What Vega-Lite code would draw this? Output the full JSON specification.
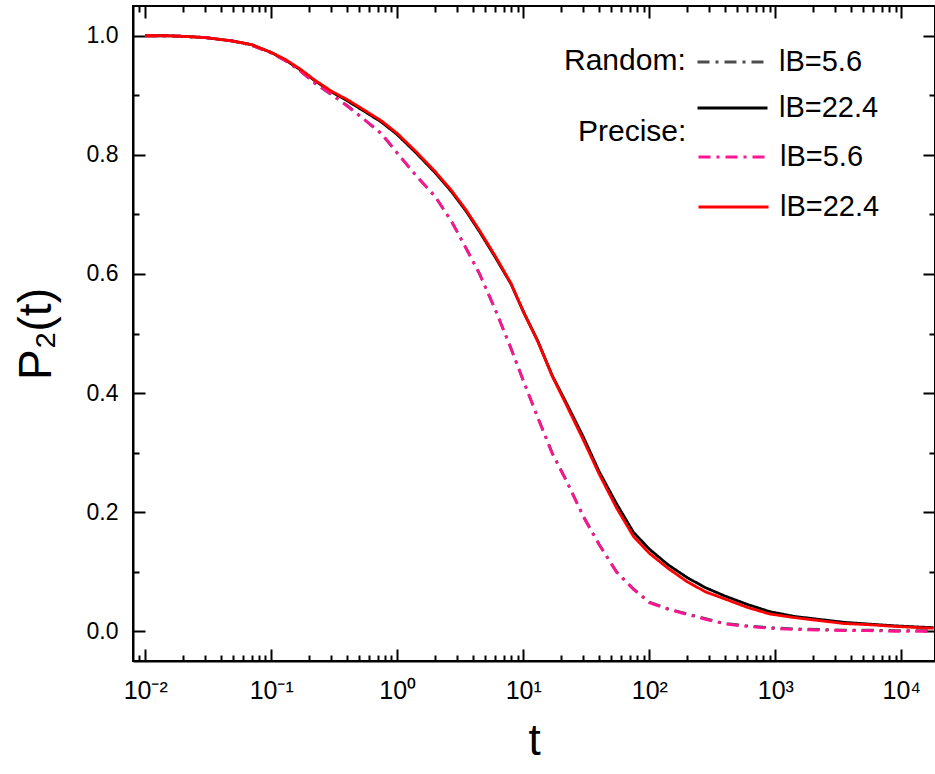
{
  "$schema": "https://vega.github.io/schema/vega-lite/v6.json",
  "width": 802,
  "height": 655,
  "autosize": {"type": "none"},
  "padding": {"left": 133, "top": 6, "right": 0, "bottom": 113},
  "background": "white",
  "config": {"view": {"stroke": "black", "strokeWidth": 2}, "font": "Liberation Sans"},
  "datasets": {
    "curves": [
      {"g":"Random","lb":"lB=5.6","t":0.01,"p":1.0},{"g":"Random","lb":"lB=5.6","t":0.015,"p":1.0},{"g":"Random","lb":"lB=5.6","t":0.02,"p":0.999},{"g":"Random","lb":"lB=5.6","t":0.03,"p":0.997},{"g":"Random","lb":"lB=5.6","t":0.05,"p":0.991},{"g":"Random","lb":"lB=5.6","t":0.07,"p":0.984},{"g":"Random","lb":"lB=5.6","t":0.1,"p":0.971},{"g":"Random","lb":"lB=5.6","t":0.13,"p":0.958},{"g":"Random","lb":"lB=5.6","t":0.17,"p":0.941},{"g":"Random","lb":"lB=5.6","t":0.22,"p":0.921},{"g":"Random","lb":"lB=5.6","t":0.3,"p":0.901},{"g":"Random","lb":"lB=5.6","t":0.4,"p":0.883},{"g":"Random","lb":"lB=5.6","t":0.55,"p":0.859},{"g":"Random","lb":"lB=5.6","t":0.75,"p":0.835},{"g":"Random","lb":"lB=5.6","t":1,"p":0.803},{"g":"Random","lb":"lB=5.6","t":1.4,"p":0.766},{"g":"Random","lb":"lB=5.6","t":2,"p":0.730},{"g":"Random","lb":"lB=5.6","t":2.7,"p":0.688},{"g":"Random","lb":"lB=5.6","t":3.5,"p":0.644},{"g":"Random","lb":"lB=5.6","t":4.5,"p":0.600},{"g":"Random","lb":"lB=5.6","t":6,"p":0.540},{"g":"Random","lb":"lB=5.6","t":8,"p":0.475},{"g":"Random","lb":"lB=5.6","t":10,"p":0.421},{"g":"Random","lb":"lB=5.6","t":13,"p":0.360},{"g":"Random","lb":"lB=5.6","t":17,"p":0.299},{"g":"Random","lb":"lB=5.6","t":22,"p":0.253},{"g":"Random","lb":"lB=5.6","t":30,"p":0.193},{"g":"Random","lb":"lB=5.6","t":40,"p":0.146},{"g":"Random","lb":"lB=5.6","t":55,"p":0.100},{"g":"Random","lb":"lB=5.6","t":75,"p":0.071},{"g":"Random","lb":"lB=5.6","t":100,"p":0.049},{"g":"Random","lb":"lB=5.6","t":140,"p":0.038},{"g":"Random","lb":"lB=5.6","t":200,"p":0.029},{"g":"Random","lb":"lB=5.6","t":280,"p":0.021},{"g":"Random","lb":"lB=5.6","t":400,"p":0.013},{"g":"Random","lb":"lB=5.6","t":600,"p":0.009},{"g":"Random","lb":"lB=5.6","t":900,"p":0.006},{"g":"Random","lb":"lB=5.6","t":1400,"p":0.004},{"g":"Random","lb":"lB=5.6","t":2200,"p":0.003},{"g":"Random","lb":"lB=5.6","t":3500,"p":0.002},{"g":"Random","lb":"lB=5.6","t":5500,"p":0.002},{"g":"Random","lb":"lB=5.6","t":9000,"p":0.001},{"g":"Random","lb":"lB=5.6","t":14000,"p":0.001},{"g":"Random","lb":"lB=5.6","t":18000,"p":0.001},
      {"g":"Random","lb":"lB=22.4","t":0.01,"p":1.0},{"g":"Random","lb":"lB=22.4","t":0.015,"p":1.0},{"g":"Random","lb":"lB=22.4","t":0.02,"p":0.999},{"g":"Random","lb":"lB=22.4","t":0.03,"p":0.997},{"g":"Random","lb":"lB=22.4","t":0.05,"p":0.991},{"g":"Random","lb":"lB=22.4","t":0.07,"p":0.985},{"g":"Random","lb":"lB=22.4","t":0.1,"p":0.972},{"g":"Random","lb":"lB=22.4","t":0.13,"p":0.959},{"g":"Random","lb":"lB=22.4","t":0.17,"p":0.943},{"g":"Random","lb":"lB=22.4","t":0.22,"p":0.925},{"g":"Random","lb":"lB=22.4","t":0.3,"p":0.906},{"g":"Random","lb":"lB=22.4","t":0.4,"p":0.891},{"g":"Random","lb":"lB=22.4","t":0.55,"p":0.873},{"g":"Random","lb":"lB=22.4","t":0.75,"p":0.855},{"g":"Random","lb":"lB=22.4","t":1,"p":0.834},{"g":"Random","lb":"lB=22.4","t":1.4,"p":0.804},{"g":"Random","lb":"lB=22.4","t":2,"p":0.770},{"g":"Random","lb":"lB=22.4","t":2.7,"p":0.738},{"g":"Random","lb":"lB=22.4","t":3.5,"p":0.706},{"g":"Random","lb":"lB=22.4","t":4.5,"p":0.671},{"g":"Random","lb":"lB=22.4","t":6,"p":0.628},{"g":"Random","lb":"lB=22.4","t":8,"p":0.583},{"g":"Random","lb":"lB=22.4","t":10,"p":0.537},{"g":"Random","lb":"lB=22.4","t":13,"p":0.488},{"g":"Random","lb":"lB=22.4","t":17,"p":0.429},{"g":"Random","lb":"lB=22.4","t":22,"p":0.383},{"g":"Random","lb":"lB=22.4","t":30,"p":0.326},{"g":"Random","lb":"lB=22.4","t":40,"p":0.268},{"g":"Random","lb":"lB=22.4","t":55,"p":0.214},{"g":"Random","lb":"lB=22.4","t":75,"p":0.166},{"g":"Random","lb":"lB=22.4","t":100,"p":0.138},{"g":"Random","lb":"lB=22.4","t":140,"p":0.112},{"g":"Random","lb":"lB=22.4","t":200,"p":0.090},{"g":"Random","lb":"lB=22.4","t":280,"p":0.073},{"g":"Random","lb":"lB=22.4","t":400,"p":0.059},{"g":"Random","lb":"lB=22.4","t":600,"p":0.045},{"g":"Random","lb":"lB=22.4","t":900,"p":0.033},{"g":"Random","lb":"lB=22.4","t":1400,"p":0.025},{"g":"Random","lb":"lB=22.4","t":2200,"p":0.020},{"g":"Random","lb":"lB=22.4","t":3500,"p":0.015},{"g":"Random","lb":"lB=22.4","t":5500,"p":0.012},{"g":"Random","lb":"lB=22.4","t":9000,"p":0.009},{"g":"Random","lb":"lB=22.4","t":14000,"p":0.007},{"g":"Random","lb":"lB=22.4","t":18000,"p":0.006},
      {"g":"Precise","lb":"lB=5.6","t":0.01,"p":1.0},{"g":"Precise","lb":"lB=5.6","t":0.015,"p":1.0},{"g":"Precise","lb":"lB=5.6","t":0.02,"p":0.999},{"g":"Precise","lb":"lB=5.6","t":0.03,"p":0.997},{"g":"Precise","lb":"lB=5.6","t":0.05,"p":0.991},{"g":"Precise","lb":"lB=5.6","t":0.07,"p":0.984},{"g":"Precise","lb":"lB=5.6","t":0.1,"p":0.971},{"g":"Precise","lb":"lB=5.6","t":0.13,"p":0.958},{"g":"Precise","lb":"lB=5.6","t":0.17,"p":0.941},{"g":"Precise","lb":"lB=5.6","t":0.22,"p":0.921},{"g":"Precise","lb":"lB=5.6","t":0.3,"p":0.902},{"g":"Precise","lb":"lB=5.6","t":0.4,"p":0.882},{"g":"Precise","lb":"lB=5.6","t":0.55,"p":0.859},{"g":"Precise","lb":"lB=5.6","t":0.75,"p":0.836},{"g":"Precise","lb":"lB=5.6","t":1,"p":0.803},{"g":"Precise","lb":"lB=5.6","t":1.4,"p":0.766},{"g":"Precise","lb":"lB=5.6","t":2,"p":0.730},{"g":"Precise","lb":"lB=5.6","t":2.7,"p":0.688},{"g":"Precise","lb":"lB=5.6","t":3.5,"p":0.644},{"g":"Precise","lb":"lB=5.6","t":4.5,"p":0.600},{"g":"Precise","lb":"lB=5.6","t":6,"p":0.540},{"g":"Precise","lb":"lB=5.6","t":8,"p":0.474},{"g":"Precise","lb":"lB=5.6","t":10,"p":0.421},{"g":"Precise","lb":"lB=5.6","t":13,"p":0.359},{"g":"Precise","lb":"lB=5.6","t":17,"p":0.298},{"g":"Precise","lb":"lB=5.6","t":22,"p":0.252},{"g":"Precise","lb":"lB=5.6","t":30,"p":0.192},{"g":"Precise","lb":"lB=5.6","t":40,"p":0.145},{"g":"Precise","lb":"lB=5.6","t":55,"p":0.099},{"g":"Precise","lb":"lB=5.6","t":75,"p":0.070},{"g":"Precise","lb":"lB=5.6","t":100,"p":0.048},{"g":"Precise","lb":"lB=5.6","t":140,"p":0.037},{"g":"Precise","lb":"lB=5.6","t":200,"p":0.028},{"g":"Precise","lb":"lB=5.6","t":280,"p":0.020},{"g":"Precise","lb":"lB=5.6","t":400,"p":0.012},{"g":"Precise","lb":"lB=5.6","t":600,"p":0.008},{"g":"Precise","lb":"lB=5.6","t":900,"p":0.005},{"g":"Precise","lb":"lB=5.6","t":1400,"p":0.003},{"g":"Precise","lb":"lB=5.6","t":2200,"p":0.002},{"g":"Precise","lb":"lB=5.6","t":3500,"p":0.001},{"g":"Precise","lb":"lB=5.6","t":5500,"p":0.001},{"g":"Precise","lb":"lB=5.6","t":9000,"p":0.0},{"g":"Precise","lb":"lB=5.6","t":14000,"p":0.0},{"g":"Precise","lb":"lB=5.6","t":18000,"p":0.0},
      {"g":"Precise","lb":"lB=22.4","t":0.01,"p":1.0},{"g":"Precise","lb":"lB=22.4","t":0.015,"p":1.0},{"g":"Precise","lb":"lB=22.4","t":0.02,"p":0.999},{"g":"Precise","lb":"lB=22.4","t":0.03,"p":0.997},{"g":"Precise","lb":"lB=22.4","t":0.05,"p":0.991},{"g":"Precise","lb":"lB=22.4","t":0.07,"p":0.985},{"g":"Precise","lb":"lB=22.4","t":0.1,"p":0.972},{"g":"Precise","lb":"lB=22.4","t":0.13,"p":0.960},{"g":"Precise","lb":"lB=22.4","t":0.17,"p":0.944},{"g":"Precise","lb":"lB=22.4","t":0.22,"p":0.926},{"g":"Precise","lb":"lB=22.4","t":0.3,"p":0.907},{"g":"Precise","lb":"lB=22.4","t":0.4,"p":0.893},{"g":"Precise","lb":"lB=22.4","t":0.55,"p":0.875},{"g":"Precise","lb":"lB=22.4","t":0.75,"p":0.857},{"g":"Precise","lb":"lB=22.4","t":1,"p":0.836},{"g":"Precise","lb":"lB=22.4","t":1.4,"p":0.806},{"g":"Precise","lb":"lB=22.4","t":2,"p":0.772},{"g":"Precise","lb":"lB=22.4","t":2.7,"p":0.740},{"g":"Precise","lb":"lB=22.4","t":3.5,"p":0.708},{"g":"Precise","lb":"lB=22.4","t":4.5,"p":0.673},{"g":"Precise","lb":"lB=22.4","t":6,"p":0.630},{"g":"Precise","lb":"lB=22.4","t":8,"p":0.584},{"g":"Precise","lb":"lB=22.4","t":10,"p":0.537},{"g":"Precise","lb":"lB=22.4","t":13,"p":0.487},{"g":"Precise","lb":"lB=22.4","t":17,"p":0.428},{"g":"Precise","lb":"lB=22.4","t":22,"p":0.380},{"g":"Precise","lb":"lB=22.4","t":30,"p":0.321},{"g":"Precise","lb":"lB=22.4","t":40,"p":0.264},{"g":"Precise","lb":"lB=22.4","t":55,"p":0.207},{"g":"Precise","lb":"lB=22.4","t":75,"p":0.159},{"g":"Precise","lb":"lB=22.4","t":100,"p":0.131},{"g":"Precise","lb":"lB=22.4","t":140,"p":0.106},{"g":"Precise","lb":"lB=22.4","t":200,"p":0.083},{"g":"Precise","lb":"lB=22.4","t":280,"p":0.066},{"g":"Precise","lb":"lB=22.4","t":400,"p":0.054},{"g":"Precise","lb":"lB=22.4","t":600,"p":0.040},{"g":"Precise","lb":"lB=22.4","t":900,"p":0.029},{"g":"Precise","lb":"lB=22.4","t":1400,"p":0.023},{"g":"Precise","lb":"lB=22.4","t":2200,"p":0.018},{"g":"Precise","lb":"lB=22.4","t":3500,"p":0.013},{"g":"Precise","lb":"lB=22.4","t":5500,"p":0.011},{"g":"Precise","lb":"lB=22.4","t":9000,"p":0.008},{"g":"Precise","lb":"lB=22.4","t":14000,"p":0.006},{"g":"Precise","lb":"lB=22.4","t":18000,"p":0.005}
    ]
  },
  "data": {"name": "curves"},
  "layer": [
    {
      "transform": [{"filter": "datum.g === 'Random'"}],
      "mark": {"type": "line", "strokeWidth": 2.8, "clip": true},
      "encoding": {
        "x": {
          "field": "t", "type": "quantitative",
          "scale": {"type": "log", "domain": [0.008, 18500], "nice": false},
          "axis": {
            "orient": "bottom",
            "values": [0.01, 0.1, 1, 10, 100, 1000, 10000],
            "labelExpr": "datum.value === 0.01 ? '10⁻²' : datum.value === 0.1 ? '10⁻¹' : datum.value === 1 ? '10⁰' : datum.value === 10 ? '10¹' : datum.value === 100 ? '10²' : datum.value === 1000 ? '10³' : '10⁴'",
            "ticks": false, "domainWidth": 2, "domainColor": "black",
            "grid": true, "gridColor": "black", "gridWidth": 2, "gridOpacity": 1, "gridDash": [12, 631, 12, 200],
            "labelFlush": false, "labelOverlap": false,
            "labelFont": "Liberation Sans", "labelFontSize": 25, "labelColor": "black", "labelPadding": 17,
            "title": "t", "titleFont": "Liberation Sans", "titleFontSize": 44, "titleFontWeight": "normal", "titleColor": "black", "titlePadding": 16
          }
        },
        "y": {
          "field": "p", "type": "quantitative",
          "scale": {"domain": [-0.05, 1.05], "nice": false, "zero": false},
          "axis": {
            "orient": "left",
            "values": [0, 0.2, 0.4, 0.6, 0.8, 1],
            "format": ".1f",
            "ticks": false, "domainWidth": 2, "domainColor": "black",
            "grid": true, "gridColor": "black", "gridWidth": 2, "gridOpacity": 1, "gridDash": [12, 778, 12, 200],
            "labelFlush": false, "labelOverlap": false,
            "labelFont": "Liberation Sans", "labelFontSize": 23, "labelColor": "black", "labelPadding": 15,
            "title": "P₂(t)", "titleFont": "Liberation Sans", "titleFontSize": 46, "titleFontWeight": "normal", "titleColor": "black", "titlePadding": 26
          }
        },
        "color": {
          "field": "lb", "type": "nominal",
          "scale": {"domain": ["lB=5.6", "lB=22.4"], "range": ["#4d4d4d", "#000000"]},
          "legend": {"orient": "none", "legendX": 431, "legendY": 40, "title": "Random:", "titleOrient": "left", "titleAnchor": "start", "titleBaseline": "top", "titlePadding": 10, "titleFont": "Liberation Sans", "titleFontSize": 30, "titleFontWeight": "normal", "titleColor": "black", "labelFont": "Liberation Sans", "labelFontSize": 29, "labelColor": "black", "labelOffset": 10, "symbolType": "stroke", "symbolSize": 4900, "symbolStrokeWidth": 2.8, "clipHeight": 32, "rowPadding": 14, "padding": 0, "labelLimit": 300}
        },
        "strokeDash": {
          "field": "lb", "type": "nominal",
          "scale": {"domain": ["lB=5.6", "lB=22.4"], "range": [[12, 6, 3, 6], [1, 0]]},
          "legend": {"orient": "none", "legendX": 431, "legendY": 40, "title": "Random:", "titleOrient": "left", "titleAnchor": "start", "titleBaseline": "top", "titlePadding": 10, "titleFont": "Liberation Sans", "titleFontSize": 30, "titleFontWeight": "normal", "titleColor": "black", "labelFont": "Liberation Sans", "labelFontSize": 29, "labelColor": "black", "labelOffset": 10, "symbolType": "stroke", "symbolSize": 4900, "symbolStrokeWidth": 2.8, "clipHeight": 32, "rowPadding": 14, "padding": 0, "labelLimit": 300}
        }
      }
    },
    {
      "transform": [{"filter": "datum.g === 'Precise'"}],
      "mark": {"type": "line", "strokeWidth": 2.8, "clip": true},
      "encoding": {
        "x": {
          "field": "t", "type": "quantitative",
          "scale": {"type": "log", "domain": [0.008, 18500], "nice": false},
          "axis": {
            "orient": "bottom",
            "values": [0.009,0.02,0.03,0.04,0.05,0.06,0.07,0.08,0.09,0.2,0.3,0.4,0.5,0.6,0.7,0.8,0.9,2,3,4,5,6,7,8,9,20,30,40,50,60,70,80,90,200,300,400,500,600,700,800,900,2000,3000,4000,5000,6000,7000,8000,9000],
            "labels": false, "ticks": false, "domain": false,
            "grid": true, "gridColor": "black", "gridWidth": 2, "gridOpacity": 1, "gridDash": [6, 643, 6, 200],
            "title": null
          }
        },
        "y": {
          "field": "p", "type": "quantitative",
          "scale": {"domain": [-0.05, 1.05], "nice": false, "zero": false},
          "axis": {
            "orient": "left",
            "values": [0.1, 0.3, 0.5, 0.7, 0.9],
            "labels": false, "ticks": false, "domain": false,
            "grid": true, "gridColor": "black", "gridWidth": 2, "gridOpacity": 1, "gridDash": [6, 790, 6, 200],
            "title": null
          }
        },
        "color": {
          "field": "lb", "type": "nominal",
          "scale": {"domain": ["lB=5.6", "lB=22.4"], "range": ["#ff1493", "#ff0000"]},
          "legend": {"orient": "none", "legendX": 445, "legendY": 135, "title": "Precise:", "titleOrient": "left", "titleAnchor": "start", "titleBaseline": "alphabetic", "titlePadding": 10, "titleFont": "Liberation Sans", "titleFontSize": 30, "titleFontWeight": "normal", "titleColor": "black", "labelFont": "Liberation Sans", "labelFontSize": 29, "labelColor": "black", "labelOffset": 10, "symbolType": "stroke", "symbolSize": 4900, "symbolStrokeWidth": 2.8, "clipHeight": 32, "rowPadding": 18, "padding": 0, "labelLimit": 300}
        },
        "strokeDash": {
          "field": "lb", "type": "nominal",
          "scale": {"domain": ["lB=5.6", "lB=22.4"], "range": [[12, 6, 3, 6], [1, 0]]},
          "legend": {"orient": "none", "legendX": 445, "legendY": 135, "title": "Precise:", "titleOrient": "left", "titleAnchor": "start", "titleBaseline": "alphabetic", "titlePadding": 10, "titleFont": "Liberation Sans", "titleFontSize": 30, "titleFontWeight": "normal", "titleColor": "black", "labelFont": "Liberation Sans", "labelFontSize": 29, "labelColor": "black", "labelOffset": 10, "symbolType": "stroke", "symbolSize": 4900, "symbolStrokeWidth": 2.8, "clipHeight": 32, "rowPadding": 18, "padding": 0, "labelLimit": 300}
        }
      }
    }
  ],
  "resolve": {
    "scale": {"color": "independent", "strokeDash": "independent"},
    "axis": {"x": "independent", "y": "independent"}
  }
}
